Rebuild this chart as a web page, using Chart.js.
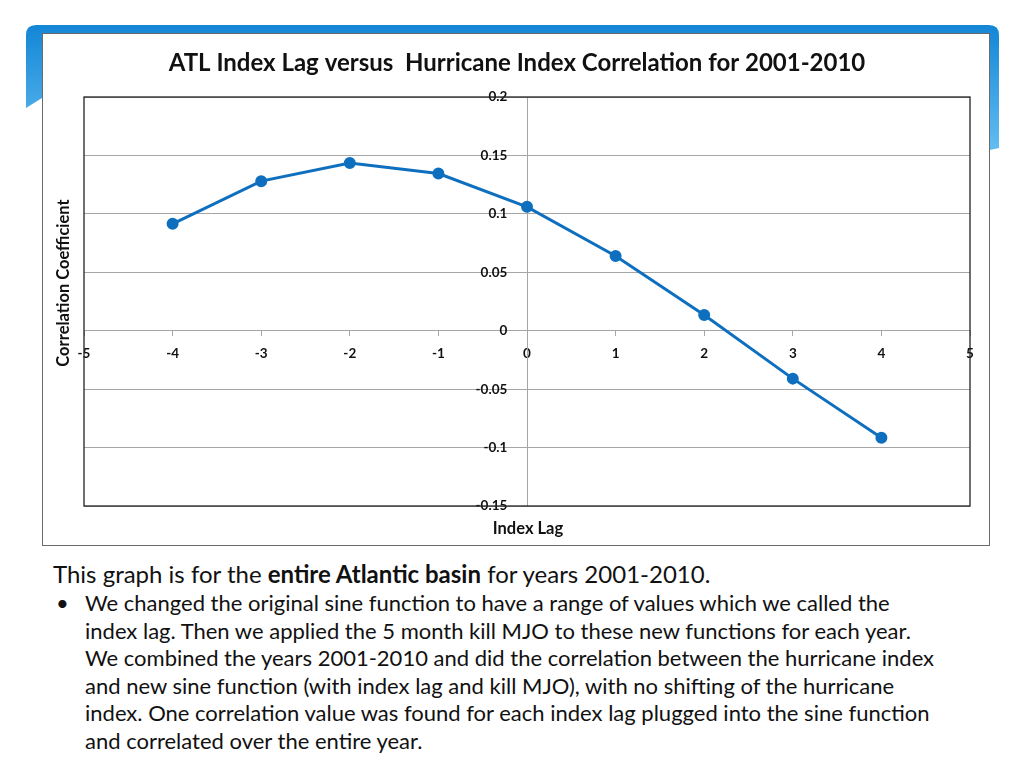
<!DOCTYPE html>
<html>
<head>
<meta charset="utf-8">
<script src="https://cdn.jsdelivr.net/npm/chart.js@4"></script>
<style>
  body { margin: 0; width: 1024px; height: 768px; background: #fff; position: relative; overflow: hidden; font-family: Lato, "Open Sans", sans-serif; }
  #frame { position: absolute; left: 0; top: 0; }
  #box { position: absolute; left: 42px; top: 33px; width: 946px; height: 511px; background: #fff; border: 1.5px solid #6a6a6a; }
  #box canvas { position: absolute; left: 0; top: 0; }
  #notes { position: absolute; left: 53px; top: 559px; width: 960px; color: #111; white-space: nowrap; }
  #notes .lead { font-size: 24px; line-height: 30px; }
  #notes ul { margin: 0; padding: 0 0 0 32px; list-style: none; }
  #notes li { font-size: 22px; line-height: 27.6px; position: relative; }
  #notes li::before { content: "\2022"; position: absolute; left: -29px; }
</style>
</head>
<body>
<svg id="frame" width="1024" height="200">
  <defs>
    <linearGradient id="blue" x1="0" y1="0" x2="0" y2="1">
      <stop offset="0" stop-color="#1386d6"/>
      <stop offset="1" stop-color="#63bdf0"/>
    </linearGradient>
  </defs>
  <path d="M36 25 H989 Q999 25 999 35 V148 L990 150 V40 H42 V98 L26 108 V35 Q26 25 36 25 Z" fill="url(#blue)"/>
</svg>
<div id="box"><canvas id="chart"></canvas></div>
<div id="notes">
  <div class="lead">This graph is for the <b>entire Atlantic basin</b> for years 2001-2010.</div>
  <ul>
    <li>We changed the original sine function to have a range of values which we called the<br>index lag. Then we applied the 5 month kill MJO to these new functions for each year.<br>We combined the years 2001-2010 and did the correlation between the hurricane index<br>and new sine function (with index lag and kill MJO), with no shifting of the hurricane<br>index. One correlation value was found for each index lag plugged into the sine function<br>and correlated over the entire year.</li>
  </ul>
</div>
<script>
// Values
const indexLag = [-4, -3, -2, -1, 0, 1, 2, 3, 4];
const correlation = [0.0915, 0.128, 0.1435, 0.1345, 0.106, 0.064, 0.0135, -0.041, -0.0915];

const chartTitle = "ATL Index Lag versus  Hurricane Index Correlation for 2001-2010";
const xTitle = "Index Lag";
const yTitle = "Correlation Coefficient";

const lineBlue = "#0f6fbf";
const gridGrey = "#a6a6a6";

// Title, border round the plot and the two axis titles
const extras = {
    id: "extras",
    afterDraw(chart) {
        const ctx = chart.ctx;
        const a = chart.chartArea;
        ctx.save();
        ctx.strokeStyle = "#222";
        ctx.lineWidth = 1.3;
        ctx.strokeRect(a.left, a.top, a.right - a.left, a.bottom - a.top);
        ctx.fillStyle = "#111";
        ctx.textAlign = "center";
        ctx.textBaseline = "middle";
        ctx.font = "bold 24px Lato";
        ctx.fillText(chartTitle, 474, 29);
        ctx.font = "bold 16.5px Lato";
        ctx.fillText(xTitle, 485, 495);
        ctx.translate(21, 249);
        ctx.rotate(-Math.PI / 2);
        ctx.fillText(yTitle, 0, 0);
        ctx.restore();
    }
};

const canvas = document.getElementById("chart");
canvas.width = 946;
canvas.height = 511;

new Chart(canvas, {
    type: "scatter",
    data: {
        datasets: [{
            data: indexLag.map((x, i) => ({ x: x, y: correlation[i] })),
            showLine: true,
            borderColor: lineBlue,
            backgroundColor: lineBlue,
            borderWidth: 3,
            pointRadius: 4.5,
            pointHoverRadius: 4.5
        }]
    },
    options: {
        responsive: false,
        animation: false,
        devicePixelRatio: 1,
        layout: { padding: { left: 41, right: 19, top: 63, bottom: 39 } },
        plugins: {
            legend: { display: false },
            tooltip: { enabled: false }
        },
        scales: {
            x: {
                type: "linear",
                position: { y: 0 },
                min: -5,
                max: 5,
                ticks: {
                    stepSize: 1,
                    color: "#111",
                    padding: 10,
                    font: { family: "Lato", size: 13.5, weight: "bold" }
                },
                grid: { drawOnChartArea: false, drawTicks: true, tickLength: 5, color: gridGrey },
                border: { display: true, color: gridGrey }
            },
            y: {
                type: "linear",
                position: { x: 0 },
                min: -0.15,
                max: 0.2,
                ticks: {
                    stepSize: 0.05,
                    color: "#111",
                    font: { family: "Lato", size: 13.5, weight: "bold" },
                    // labels sit against the axis line, so pad them on the right
                    callback: v => String(parseFloat(v.toFixed(2))) + "      "
                },
                grid: { color: gridGrey, tickLength: 5 },
                border: { display: true, color: gridGrey }
            }
        }
    },
    plugins: [extras]
});
</script>
</body>
</html>
